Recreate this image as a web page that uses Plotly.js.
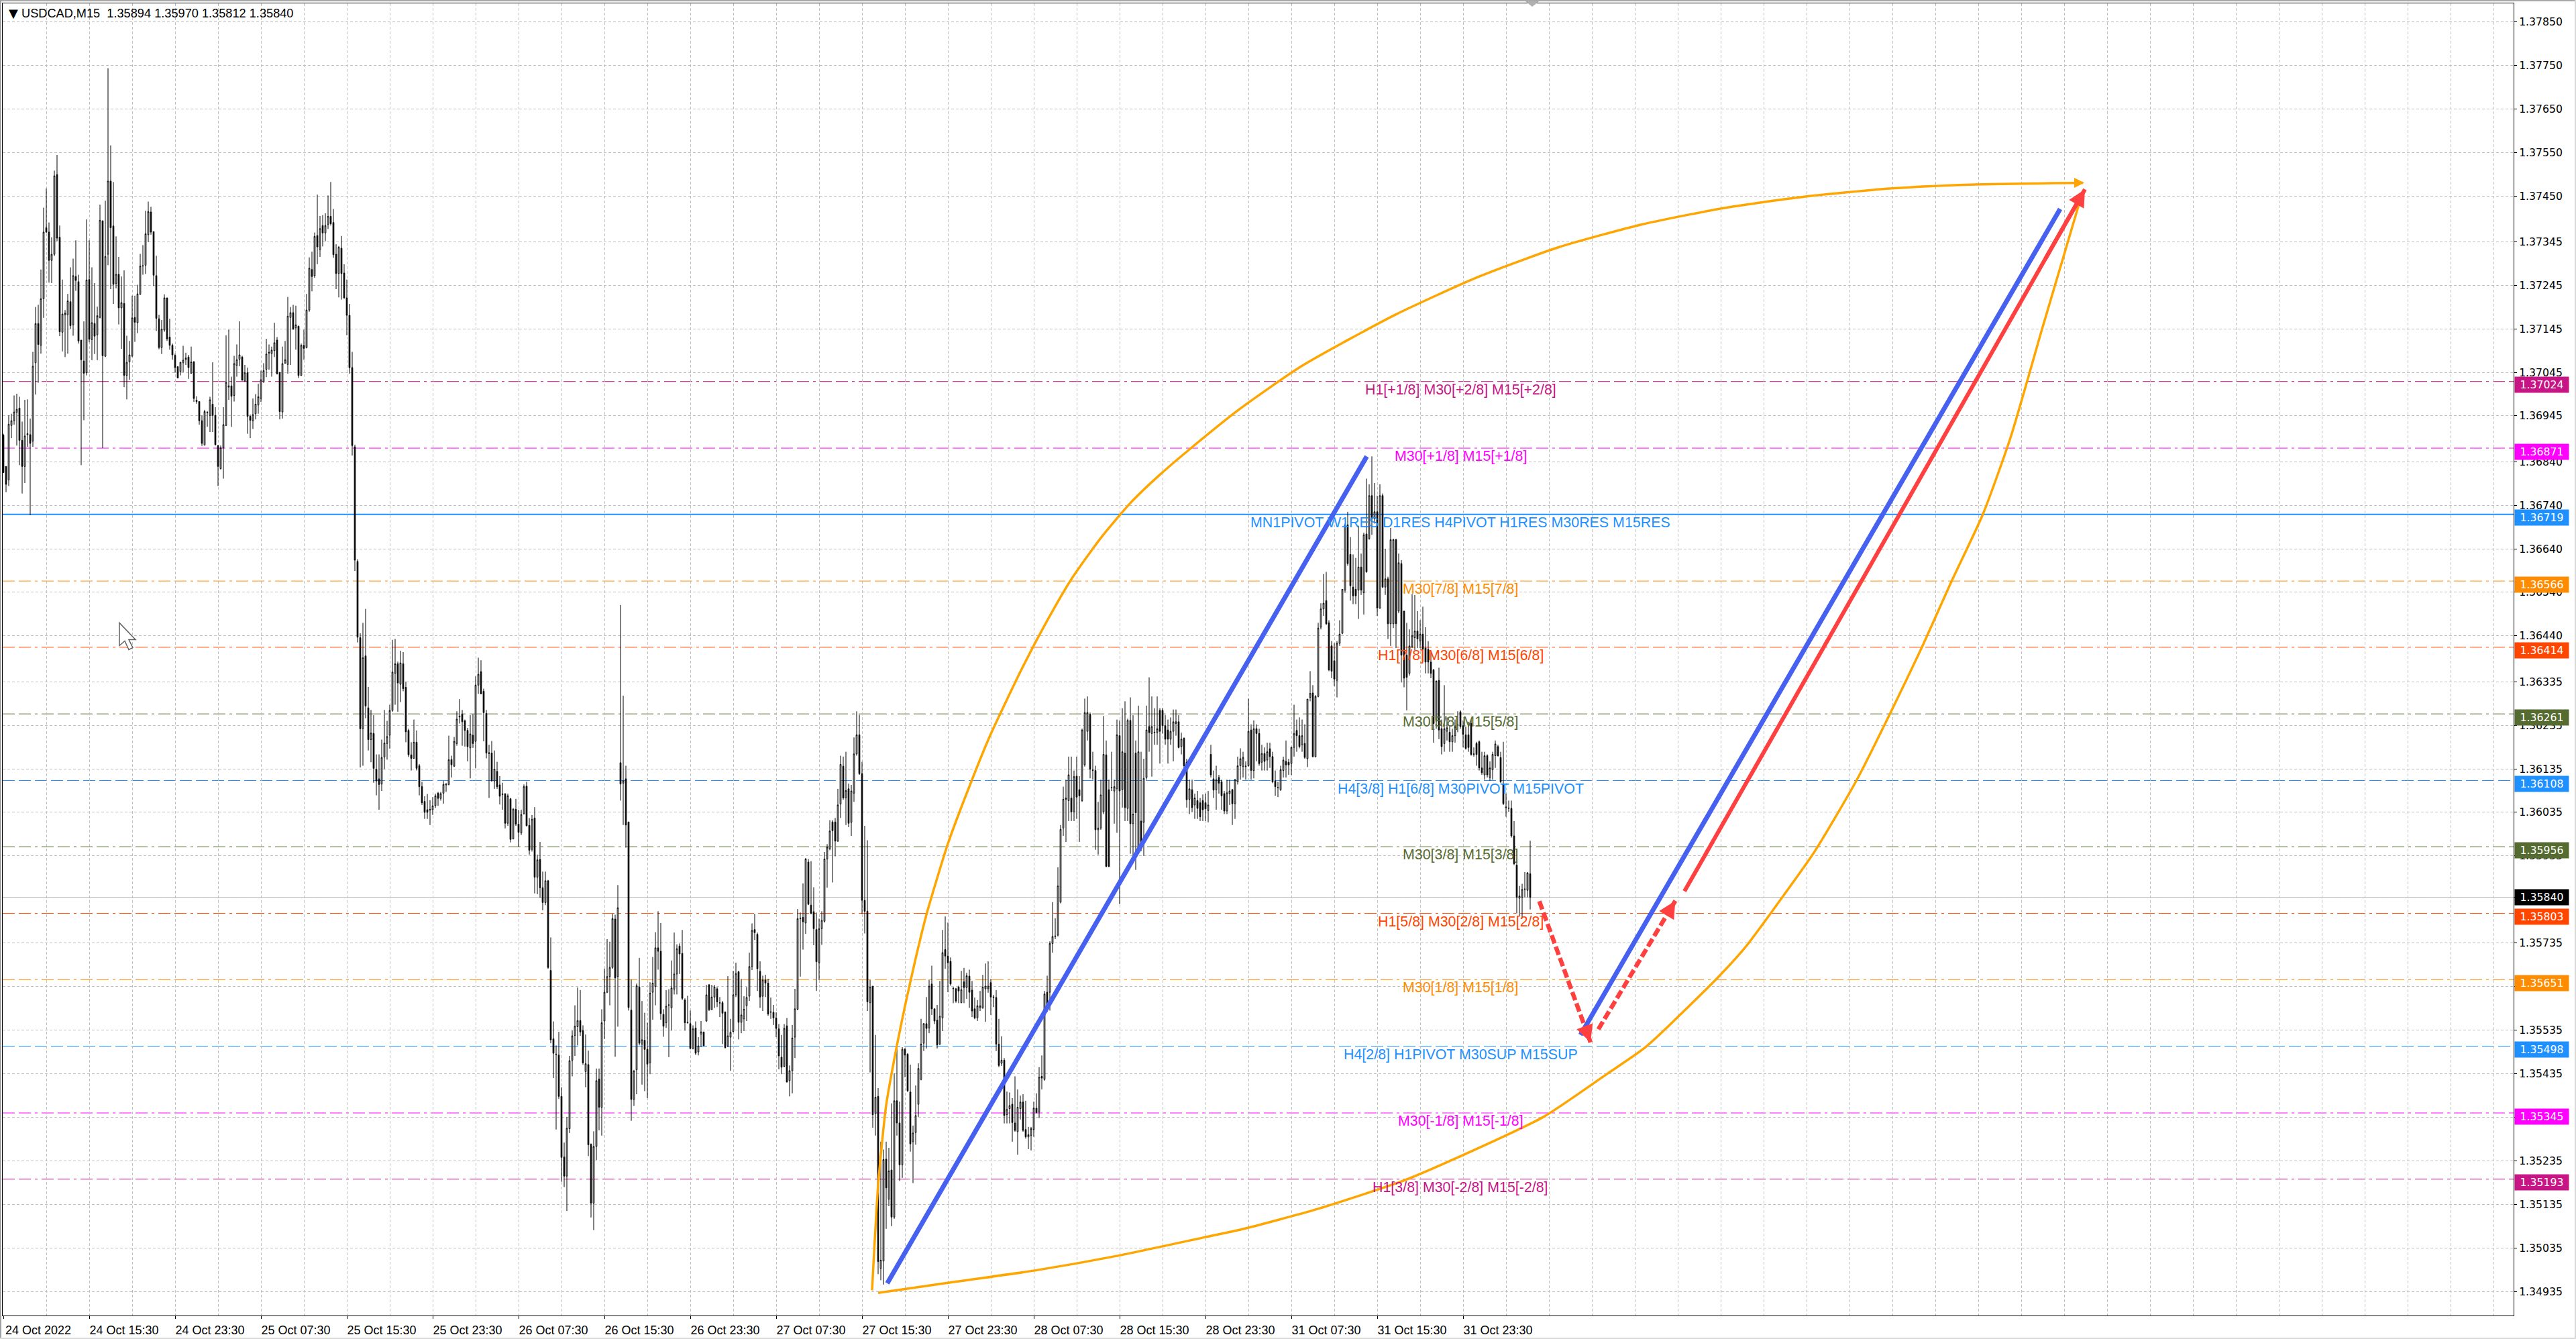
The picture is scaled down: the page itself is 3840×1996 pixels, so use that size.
<!DOCTYPE html>
<html><head><meta charset="utf-8">
<script src="https://cdn.plot.ly/plotly-3.0.1.min.js"></script>
<style>
html,body{margin:0;padding:0;background:#fff;overflow:hidden}
#chart{position:absolute;left:0;top:0;width:3840px;height:1996px}
.edge{position:absolute;z-index:5}
</style></head><body>
<div id="chart"></div>
<div class="edge" style="left:0;top:0;width:3840px;height:2px;background:#a8a8a8"></div>
<div class="edge" style="left:0;top:0;width:2px;height:1996px;background:#a0a0a0"></div>
<div class="edge" style="left:3838px;top:0;width:2px;height:1996px;background:#d8d8d8"></div>
<div class="edge" style="left:0;top:1994px;width:3840px;height:2px;background:#d8d8d8"></div>
<div class="edge" style="left:2274px;top:2px;width:0;height:0;border-left:10px solid transparent;border-right:10px solid transparent;border-top:8px solid #b0b0b0"></div>
<script>
// Candle values: 1e-5 price units above 1.3 (6871 = 1.36871)
const opens = [
6901,6829,6798,6923,6934,6953,6963,6889,6829,6902,6902,6887,7067,7157,7107,7214,7377,7367,7302,7316,
7499,7355,7137,7177,7177,7207,7154,7265,7253,7119,7071,7044,7258,7120,7157,7131,7171,7393,7082,7316,
7484,7381,7249,7270,7193,7203,7038,7069,7083,7171,7159,7224,7290,7291,7361,7413,7368,7267,7168,7102,
7142,7216,7126,7107,7084,7058,7047,7067,7074,7080,7043,7069,6981,6978,6934,6878,6952,6946,6972,6946,
6877,6824,6872,6923,7011,7014,6992,7061,7075,7080,7025,7044,6944,6934,6950,6970,6985,7023,7052,7089,
7088,7095,7119,7045,6954,7066,7063,7171,7182,7147,7151,7038,7107,7102,7188,7281,7267,7359,7327,7382,
7365,7384,7403,7389,7316,7272,7330,7273,7216,7176,7056,
6874,6611,6436,6227,6394,6275,6202,6216,6134,6112,6100,6162,6193,6212,6269,6354,6376,6329,6376,6322,
6223,6167,6159,6196,6142,6094,6060,6041,6040,6041,6050,6079,6067,6079,6098,6099,6156,6141,6193,6254,
6261,6245,6223,6183,6212,6198,6327,6358,6313,6262,6172,6171,6107,6129,6098,6076,6078,6010,6066,5974,
6042,6008,5988,6032,6095,6005,5950,6022,5886,5927,5862,5828,5878,5672,5515,5479,5478,5383,5244,5200,
5309,5466,5523,5543,5557,5534,5440,5456,5273,5138,5268,5423,5358,5556,5622,5658,5679,5790,5658,6149,
6102,6112,6013,5581,5376,5444,5634,5503,5512,5491,5460,5622,5635,5724,5716,5571,5552,5592,5586,5629,
5664,5728,5711,5604,5552,5550,5493,5540,
5485,5526,5531,5556,5639,5582,5611,5630,5597,5598,5577,5498,5519,5532,5616,5669,5553,5561,5591,5613,
5681,5766,5755,5670,5613,5650,5643,5576,5576,5563,5538,5473,5452,5545,5419,5442,5519,5583,5791,5794,
5781,5921,5822,5807,5766,5690,5768,5785,5928,5951,6013,6013,5969,6054,6141,6068,6089,6012,6079,6169,
6213,6124,5833,5808,5598,5636,5344,5383,4988,5005,5239,5147,5214,5106,5373,5322,5226,5491,5480,5393,
5279,5300,5365,5422,5505,5550,5540,5641,5584,5558,5503,5563,5720,5705,5693,5630,5630,5634,5598,5646,
5633,5659,5627,5584,5563,5586,5586,5630,5630,5644,5610,5610,5503,5459,5466,5341,5355,5365,5322,5302,
5355,5370,5307,5290,5293,5307,5356,5347,5429,5422,
5622,5622,5734,5750,5753,5829,5999,6065,6062,6068,6036,6118,6087,6062,6144,6221,6260,6131,6131,5995,
5999,6036,6167,6087,6091,6084,6089,6211,6087,6171,6044,6246,6009,6171,5946,6015,6012,6115,6232,6216,
6218,6218,6269,6269,6234,6224,6203,6221,6239,6243,6186,6205,6150,6065,6087,6052,6062,6057,6062,6057,
6039,6168,6112,6087,6115,6105,6078,6038,6078,6087,6055,6105,6142,6140,6140,6142,6224,6131,6227,6216,
6150,6170,6155,6181,6163,6107,6091,6087,6131,6152,6150,6147,6184,6223,6211,6190,6193,6158,6299,6309,
6163,6301,6460,6502,6521,6470,6417,6383,6338,6423,6446,6545,6695,6627,6552,6547,6545,6598,6539,6674,
6663,6762,6709,6725,6504,6762,6552,6571,6468,6468,6661,6497,6606,6497,6396,6354,6415,6436,6451,6428,
6444,6412,6409,6380,6362,6246,6338,6227,6193,6221,6219,6197,6211,6235,6266,6234,6213,6213,6239,6168,
6193,6197,6137,6121,6165,6115,6133,6165,6186,6161,6099,6046,6044,6044,5981,5914,5838,5840,5858,5856,
5894];
const highs = [
6904,6829,6946,6950,6992,6996,6989,6932,6982,6983,6939,7092,7195,7200,7281,7423,7467,7389,7355,7508,
7544,7382,7258,7188,7225,7286,7306,7348,7269,7119,7162,7396,7348,7286,7250,7196,7430,7393,7439,7743,
7566,7482,7357,7310,7265,7279,7129,7117,7221,7221,7246,7317,7337,7416,7437,7425,7368,7313,7177,7165,
7224,7216,7168,7111,7088,7058,7069,7106,7090,7085,7104,7071,6990,6978,6946,6959,6956,6989,7068,6965,
6878,6877,6965,7130,7143,7035,7083,7109,7162,7083,7062,7056,6948,6985,6995,7019,7049,7066,7122,7109,
7104,7159,7126,7045,7104,7117,7218,7195,7200,7198,7152,7111,7143,7225,7309,7322,7366,7453,7404,7406,
7410,7451,7482,7420,7339,7335,7358,7293,7258,7202,7092,
6879,6616,6446,6470,6502,6323,6270,6258,6168,6168,6202,6270,6245,6282,6431,6433,6381,6406,6403,6335,
6227,6196,6248,6223,6146,6105,6072,6077,6063,6070,6078,6082,6082,6107,6102,6211,6165,6208,6267,6295,
6270,6248,6229,6258,6260,6347,6390,6384,6319,6270,6190,6199,6177,6151,6118,6103,6078,6078,6068,6045,
6066,6041,6041,6099,6105,6022,6029,6047,5938,5967,5899,5899,5880,5748,5555,5500,5531,5404,5277,5336,
5476,5534,5592,5633,5627,5546,5525,5488,5275,5303,5447,5447,5583,5676,5744,5738,5802,5800,5868,6511,
6303,6142,6013,5651,5444,5642,5701,5602,5575,5552,5645,5703,5760,5808,5781,5583,5627,5629,5695,5759,
5732,5734,5765,5608,5614,5580,5546,5555,
5519,5556,5531,5639,5641,5639,5639,5634,5611,5602,5577,5659,5561,5671,5690,5671,5653,5613,5634,5713,
5780,5802,5759,5693,5660,5662,5653,5610,5593,5576,5549,5524,5549,5563,5454,5547,5630,5813,5805,5872,
5930,5928,5923,5863,5805,5791,5808,5944,5962,6017,6017,6022,6089,6165,6163,6174,6101,6098,6207,6267,
6259,6151,6004,5971,5650,5636,5524,5402,5279,5261,5279,5265,5367,5436,5496,5371,5496,5494,5482,5456,
5316,5408,5459,5561,5551,5611,5651,5683,5584,5593,5648,5765,5796,5782,5702,5634,5632,5637,5671,5678,
5667,5674,5648,5610,5604,5625,5662,5688,5693,5653,5616,5627,5561,5521,5471,5394,5392,5379,5429,5399,
5385,5388,5373,5313,5313,5371,5390,5450,5477,5625,
5660,5739,5829,5792,5909,6006,6094,6110,6163,6163,6131,6163,6118,6227,6296,6301,6264,6174,6142,6059,
6110,6256,6200,6110,6174,6110,6248,6246,6274,6290,6250,6299,6258,6200,6280,6174,6158,6280,6345,6301,
6274,6301,6274,6274,6258,6248,6253,6271,6271,6258,6218,6207,6158,6110,6110,6078,6084,6068,6076,6078,
6084,6190,6131,6142,6121,6110,6084,6110,6110,6089,6112,6163,6182,6174,6152,6296,6237,6246,6237,6227,
6190,6184,6195,6195,6174,6131,6105,6142,6163,6200,6158,6186,6282,6248,6253,6248,6237,6295,6359,6327,
6304,6470,6515,6582,6587,6476,6428,6423,6428,6476,6547,6698,6725,6667,6627,6619,6693,6629,6677,6801,
6788,6852,6791,6762,6788,6767,6640,6576,6688,6663,6663,6629,6614,6497,6470,6455,6536,6534,6497,6476,
6507,6460,6428,6402,6364,6338,6367,6248,6327,6253,6232,6227,6248,6267,6269,6246,6232,6243,6248,6184,
6197,6200,6174,6174,6168,6152,6174,6200,6190,6174,6197,6078,6062,6062,6015,5919,5866,5871,5898,5898,
5970];
const lows = [
6815,6770,6784,6894,6925,6877,6832,6767,6791,6874,6717,6874,6994,7021,7088,7170,7365,7251,7250,7312,
7346,7128,7093,7080,7088,7145,7129,7232,7111,6832,6935,7038,7114,7073,7087,7073,7169,6871,7080,7291,
7236,7202,7238,7155,7099,7011,6983,7028,7080,7115,7135,7223,7269,7271,7344,7361,7243,7140,7098,7087,
7138,7117,7097,7074,7044,7032,7038,7045,7062,7030,7042,6977,6973,6925,6876,6877,6920,6908,6908,6877,
6784,6822,6801,6922,6982,6920,6978,7035,7059,7026,7023,6904,6894,6915,6937,6950,6977,7021,7034,7051,
7035,7080,7040,6937,6939,7065,7042,7062,7143,7097,7032,7037,7074,7100,7184,7231,7262,7293,7310,7334,
7346,7374,7382,7308,7236,7217,7212,7214,7130,7042,6854,
6589,6425,6138,6142,6251,6177,6150,6103,6074,6041,6084,6134,6156,6181,6266,6282,6266,6288,6313,6196,
6162,6131,6159,6131,6074,6052,6020,6020,6006,6029,6045,6050,6062,6055,6082,6097,6115,6139,6188,6239,
6188,6186,6152,6113,6183,6136,6307,6307,6198,6159,6068,6107,6089,6089,6053,6041,5998,6004,5966,5973,
6004,5956,5983,6030,6003,5938,5945,5849,5847,5839,5810,5822,5676,5505,5425,5307,5377,5187,5175,5120,
5299,5429,5476,5500,5522,5456,5404,5246,5105,5076,5237,5305,5293,5515,5620,5592,5676,5474,5543,6062,
6006,5954,5580,5327,5361,5388,5500,5410,5395,5379,5434,5559,5592,5674,5559,5520,5540,5473,5534,5617,
5617,5664,5604,5534,5550,5491,5491,5478,
5477,5496,5499,5554,5579,5582,5586,5588,5565,5503,5493,5496,5442,5530,5611,5514,5528,5533,5556,5602,
5673,5742,5625,5586,5579,5611,5568,5561,5547,5519,5445,5434,5450,5415,5383,5390,5471,5581,5658,5720,
5756,5822,5801,5730,5625,5650,5731,5782,5862,5948,5874,5934,5967,6022,6064,6006,6001,5981,6059,6165,
6121,5802,5757,5579,5438,5311,5293,4975,4961,4951,5079,5131,5085,5102,5293,5189,5196,5427,5393,5256,
5184,5272,5336,5420,5487,5493,5528,5570,5549,5493,5501,5533,5676,5622,5637,5597,5598,5597,5597,5597,
5607,5586,5565,5560,5556,5579,5584,5554,5621,5570,5588,5487,5450,5453,5321,5321,5321,5279,5302,5249,
5330,5302,5286,5262,5259,5290,5344,5333,5399,5419,
5577,5580,5713,5744,5750,5826,5981,5967,6015,6015,6015,6020,5967,6059,6140,6200,6113,6110,5949,5938,
5995,6031,5909,5909,6084,6009,5988,5824,6046,6015,6015,5940,5925,5903,5940,5946,5935,6110,6174,6117,
6190,6190,6147,6216,6190,6147,6190,6152,6211,6182,6168,6131,6046,6031,6036,6020,6020,6015,6015,6015,
6012,6115,6068,6041,6078,6041,6031,6031,6052,6006,6020,6099,6110,6115,6110,6140,6110,6113,6152,6142,
6131,6131,6131,6137,6102,6073,6070,6084,6115,6115,6121,6121,6163,6174,6182,6174,6158,6139,6290,6161,
6161,6299,6455,6486,6465,6359,6343,6325,6299,6417,6444,6539,6601,6521,6513,6513,6479,6534,6489,6585,
6661,6672,6698,6486,6502,6550,6534,6433,6417,6458,6412,6492,6333,6322,6269,6349,6412,6407,6412,6412,
6380,6354,6354,6343,6195,6227,6203,6168,6174,6200,6174,6174,6195,6219,6227,6184,6179,6174,6165,6163,
6142,6131,6121,6110,6115,6108,6110,6137,6163,6102,6052,6025,6036,5977,5914,5803,5797,5792,5840,5840,
5812];
const closes = [
6815,6788,6926,6934,6954,6960,6889,6829,6899,6904,6882,7059,7157,7109,7214,7367,7367,7302,7316,7496,
7353,7138,7179,7181,7209,7152,7267,7256,7117,7074,7043,7257,7121,7159,7128,7175,7394,7083,7311,7484,
7377,7247,7270,7193,7205,7038,7068,7085,7170,7160,7225,7289,7289,7363,7414,7367,7268,7169,7102,7144,
7216,7122,7107,7085,7056,7032,7068,7073,7078,7056,7069,6985,6978,6934,6882,6955,6953,6982,6946,6879,
6829,6872,6925,7022,7014,6990,7065,7074,7085,7027,7044,6944,6935,6948,6972,6989,7028,7049,7087,7091,
7096,7113,7042,6955,7065,7074,7174,7182,7144,7154,7038,7107,7100,7188,7284,7265,7357,7333,7375,7365,
7382,7403,7386,7315,7272,7332,7272,7216,7176,7056,6877,
6614,6437,6227,6390,6279,6202,6217,6136,6107,6099,6161,6194,6209,6269,6357,6376,6332,6378,6319,6220,
6167,6159,6196,6136,6094,6057,6035,6035,6042,6050,6073,6067,6078,6099,6100,6156,6144,6198,6249,6256,
6243,6223,6186,6215,6193,6327,6352,6307,6264,6171,6170,6107,6134,6094,6072,6077,6010,6073,5973,6042,
6008,5989,6030,6094,6004,5948,6019,5886,5926,5862,5828,5878,5679,5513,5482,5480,5383,5243,5200,5310,
5465,5522,5544,5557,5531,5460,5458,5272,5138,5268,5419,5358,5552,5622,5658,5679,5791,5655,5816,6100,
6107,6006,5587,5376,5441,5637,5505,5513,5491,5457,5620,5643,5724,5716,5573,5544,5590,5593,5632,5664,
5722,5710,5608,5552,5553,5493,5538,5482,
5499,5531,5499,5616,5582,5611,5634,5600,5598,5574,5495,5522,5530,5616,5665,5553,5570,5583,5610,5681,
5764,5759,5676,5611,5650,5643,5572,5577,5563,5539,5476,5450,5539,5416,5442,5517,5584,5791,5792,5784,
5928,5824,5803,5768,5692,5768,5787,5928,5955,5992,5993,5969,6052,6145,6068,6085,6010,6084,6169,6213,
6124,5833,5808,5600,5634,5341,5381,5004,5007,5238,5173,5212,5106,5373,5322,5226,5491,5478,5396,5274,
5299,5339,5447,5503,5550,5539,5636,5584,5556,5501,5567,5713,5705,5690,5641,5631,5602,5625,5628,5633,
5660,5622,5579,5563,5591,5591,5634,5636,5636,5611,5611,5503,5454,5466,5339,5353,5362,5323,5305,5358,
5370,5305,5290,5295,5309,5356,5346,5427,5425,5618,
5593,5734,5750,5751,5866,5996,6065,6068,6121,6036,6117,6070,6073,6224,6264,6264,6134,6132,5995,5999,
6075,6168,5911,5911,6092,6094,6213,6084,6174,6046,6246,6009,6031,6034,6174,5951,6113,6224,6218,6232,
6219,6227,6221,6234,6203,6203,6221,6243,6243,6184,6203,6142,6064,6089,6046,6068,6044,6025,6041,6043,
6052,6121,6086,6110,6102,6073,6038,6080,6084,6055,6110,6142,6158,6161,6141,6221,6131,6227,6216,6147,
6170,6152,6174,6163,6105,6094,6092,6133,6155,6144,6144,6184,6216,6211,6186,6211,6161,6295,6308,6163,
6301,6458,6502,6515,6468,6362,6359,6341,6423,6444,6547,6695,6606,6555,6532,6532,6598,6545,6672,6587,
6762,6709,6725,6504,6762,6552,6571,6468,6661,6661,6468,6608,6396,6343,6345,6417,6441,6451,6433,6444,
6409,6380,6380,6354,6239,6336,6224,6186,6227,6229,6197,6211,6232,6236,6232,6214,6182,6184,6168,6169,
6168,6137,6126,6165,6121,6137,6168,6192,6165,6105,6055,6047,6045,5981,5917,5840,5843,5858,5859,5896,
5840];

const yTickVals = [1.3785,1.3775,1.3765,1.3755,1.3745,1.37345,1.37245,1.37145,1.37045,1.36945,1.3684,1.3674,1.3664,1.3654,1.3644,1.36335,1.36235,1.36135,1.36035,1.35935,1.3584,1.35735,1.35635,1.35535,1.35435,1.35335,1.35235,1.35135,1.35035,1.34935];
const yTickText = ['1.37850','1.37750','1.37650','1.37550','1.37450','1.37345','1.37245','1.37145','1.37045','1.36945','1.36840','1.36740','1.36640','1.36540','1.36440','1.36335','1.36235','1.36135','1.36035','1.35935','1.35840','1.35735','1.35635','1.35535','1.35435','1.35335','1.35235','1.35135','1.35035','1.34935'];
const xTickBars = [0,32,64,96,128,160,192,224,256,288,320,352,384,416,448,480,512,544];
const xTickText = ['24 Oct 2022','24 Oct 15:30','24 Oct 23:30','25 Oct 07:30','25 Oct 15:30','25 Oct 23:30','26 Oct 07:30','26 Oct 15:30','26 Oct 23:30','27 Oct 07:30','27 Oct 15:30','27 Oct 23:30','28 Oct 07:30','28 Oct 15:30','28 Oct 23:30','31 Oct 07:30','31 Oct 15:30','31 Oct 23:30'];
const minorGridBars = [16,48,80,112,144,176,208,240,272,304,336,368,400,432,464,496,528,560,576,592,608,624,640,656,672,688,704,720,736,752,768,784,800,816,832,848,864,880,896,912,928];

const levelPrices = [1.37024,1.36871,1.36719,1.36566,1.36414,1.36261,1.36108,1.35956,1.35803,1.35651,1.35498,1.35345,1.35193];
const levelText = ['1.37024','1.36871','1.36719','1.36566','1.36414','1.36261','1.36108','1.35956','1.35803','1.35651','1.35498','1.35345','1.35193'];
const levelColors = ['#C71585','#FF00FF','#1E90FF','#FF8C00','#FF4500','#556B2F','#1E90FF','#556B2F','#FF4500','#FF8C00','#1E90FF','#FF00FF','#C71585'];
const levelStyle = ['m','m','s','m','m','m','b','m','m','m','b','m','m'];
const levelLabels = ['H1[+1/8] M30[+2/8] M15[+2/8]','M30[+1/8] M15[+1/8]','MN1PIVOT W1RES D1RES H4PIVOT H1RES M30RES M15RES','M30[7/8] M15[7/8]','H1[7/8] M30[6/8] M15[6/8]','M30[5/8] M15[5/8]','H4[3/8] H1[6/8] M30PIVOT M15PIVOT','M30[3/8] M15[3/8]','H1[5/8] M30[2/8] M15[2/8]','M30[1/8] M15[1/8]','H4[2/8] H1PIVOT M30SUP M15SUP','M30[-1/8] M15[-1/8]','H1[3/8] M30[-2/8] M15[-2/8]'];
const labelBar = 543;
const bidPrice = 1.3584;

// Hand-drawn objects: bar position and price (1e-5 above 1.3)
const arcUpBars = [323.75,326,329,333,336,340,344,352,361,368,380,389,398,409,420,431,442,461,484,519,550,580,611,641,672,703,733,775];
const arcUpPts  = [4938,5179,5363,5500,5590,5700,5800,5963,6110,6215,6370,6475,6570,6665,6745,6810,6868,6962,7060,7178,7265,7333,7385,7422,7449,7467,7476,7480];
const arcLowBars = [326,352,384,416,448,461,490,522,541,574,598,612,638,649,660,675,690.6,703,715,726,737.7,748,759.8,767,775];
const arcLowPts  = [4932,4955,4983,5018,5060,5077,5125,5190,5240,5336,5436,5496,5650,5724,5815,5945,6108,6260,6414,6565,6719,6895,7145,7295,7462];
const blue1Bars = [329.4,508.1]; const blue1Pts = [4954,6852];
const blue2Bars = [587.75,766.5]; const blue2Pts = [5524,7420];
const redBars = [626.5,775.75]; const redPts = [5854,7465];
const redDash1Bars = [572.4,591.5]; const redDash1Pts = [5831,5507];
const redDash2Bars = [594.4,623.1]; const redDash2Pts = [5537,5832];

const toPrice = v => 1.3 + v/1e5;
const barIdx = opens.map((_,i)=>i);
const GRID='#c0c0c0', GD='4px,3px';
const FONT_AX='"DejaVu Sans", sans-serif', FONT_TXT='"Liberation Sans", Arial, sans-serif';

const line=(bars,pts,color,width,dash)=>({type:'scatter',mode:'lines',x:bars,y:pts.map(toPrice),hoverinfo:'skip',showlegend:false,
  line:{color:color,width:width,dash:dash||'solid'}});
const curve=(bars,pts)=>({type:'scatter',mode:'lines',x:bars,y:pts.map(toPrice),hoverinfo:'skip',showlegend:false,
  line:{color:'#FFA500',width:3.5,shape:'spline',smoothing:0.6}});

const traces=[
 {type:'candlestick',x:barIdx,open:opens.map(toPrice),high:highs.map(toPrice),low:lows.map(toPrice),close:closes.map(toPrice),
  whiskerwidth:0,hoverinfo:'skip',showlegend:false,
  increasing:{line:{color:'#000',width:1},fillcolor:'#fff'},
  decreasing:{line:{color:'#000',width:1},fillcolor:'#000'}},
 curve(arcUpBars,arcUpPts),
 curve(arcLowBars,arcLowPts),
 line(blue1Bars,blue1Pts,'#4660F0',7),
 line(blue2Bars,blue2Pts,'#4660F0',7),
 line(redBars,redPts,'#FF4040',6),
 line(redDash1Bars,redDash1Pts,'#FF4040',6.5,'13px,5px'),
 line(redDash2Bars,redDash2Pts,'#FF4040',6.5,'13px,5px'),
];

const dashFor={m:'18px,6px,18px,6px,4px,6px',b:'18px,6px',s:'solid'};
const shapes=levelPrices.map((p,i)=>({type:'line',xref:'paper',x0:0,x1:1,yref:'y',y0:p,y1:p,layer:'below',
  line:{color:levelColors[i],width:levelStyle[i]==='s'?2:1,dash:dashFor[levelStyle[i]]}}));
shapes.push({type:'line',xref:'paper',x0:0,x1:1,yref:'y',y0:bidPrice,y1:bidPrice,layer:'below',line:{color:'#b8b8b8',width:1}});
// mouse pointer left on the screenshot
shapes.push({type:'path',xref:'x',yref:'y',xsizemode:'pixel',ysizemode:'pixel',xanchor:43.25,yanchor:1.3647,
  path:'M0,0 L0,-34 L8,-27 L14,-40 L20,-37 L14,-25 L24,-25 Z',line:{color:'#606060',width:1.5},fillcolor:'#ffffff'});

const ann=[];
ann.push({xref:'paper',yref:'paper',x:0.0018,y:0.9925,xanchor:'left',yanchor:'middle',showarrow:false,text:'▼',font:{family:FONT_AX,size:18,color:'#000'}});
ann.push({xref:'paper',yref:'paper',x:0.007,y:0.9925,xanchor:'left',yanchor:'middle',showarrow:false,
  text:'USDCAD,M15\u00a0\u00a01.35894 1.35970 1.35812 1.35840',font:{family:FONT_TXT,size:18.2,color:'#000'}});
levelLabels.forEach((t,i)=>ann.push({xref:'x',yref:'y',x:labelBar,y:levelPrices[i],yshift:-12,xanchor:'center',yanchor:'middle',showarrow:false,text:t,
  font:{family:FONT_TXT,size:21.4,color:levelColors[i]}}));
const tagX=1.0003;
levelText.forEach((t,i)=>ann.push({xref:'paper',yref:'y',x:tagX,y:levelPrices[i],yshift:-5,xanchor:'left',yanchor:'middle',showarrow:false,
  text:t,width:80,height:23,align:'center',bgcolor:levelColors[i],borderpad:0,font:{family:FONT_AX,size:15.7,color:'#fff'}}));
ann.push({xref:'paper',yref:'y',x:tagX,y:bidPrice,xanchor:'left',yanchor:'middle',showarrow:false,text:'1.35840',width:80,height:23,align:'center',bgcolor:'#000',borderpad:0,font:{family:FONT_AX,size:15.7,color:'#fff'}});
const head=(bars,pts)=>{const f=0.9;const ax=bars[0]+(bars[1]-bars[0])*f,ay=toPrice(pts[0]+(pts[1]-pts[0])*f);
  return {xref:'x',yref:'y',axref:'x',ayref:'y',x:bars[1],y:toPrice(pts[1]),ax:ax,ay:ay,showarrow:true,arrowhead:2,arrowsize:0.85,arrowwidth:6,arrowcolor:'#FF4040',text:''};};
ann.push(head(redBars,redPts),head(redDash1Bars,redDash1Pts),head(redDash2Bars,redDash2Pts));
ann.push({xref:'x',yref:'y',axref:'pixel',ayref:'pixel',x:775.5,y:toPrice(7480),ax:-12,ay:0,showarrow:true,arrowhead:2,arrowsize:1,arrowwidth:3,arrowcolor:'#FFA500',text:''});

const layout={
 width:3840,height:1996,autosize:false,
 margin:{l:4,r:93,t:4.5,b:35,pad:0},
 paper_bgcolor:'#fff',plot_bgcolor:'#fff',showlegend:false,hovermode:false,dragmode:false,
 boxgap:0.4,
 xaxis:{type:'linear',range:[-0.25,935.5],rangeslider:{visible:false},fixedrange:true,
  tickmode:'array',tickvals:xTickBars,ticktext:xTickText,ticks:'outside',ticklen:4,tickcolor:'#000',tickwidth:1,
  tickfont:{family:FONT_TXT,size:18,color:'#000'},ticklabelshift:52,ticklabeloverflow:'allow',ticklabelstandoff:1,tickangle:0,
  showgrid:true,gridcolor:GRID,griddash:GD,gridwidth:1,zeroline:false,
  minor:{tickmode:'array',tickvals:minorGridBars,showgrid:true,gridcolor:GRID,griddash:GD,gridwidth:1,ticks:''},
  showline:true,linecolor:'#000',linewidth:1,mirror:true},
 yaxis:{type:'linear',side:'right',range:[1.3488,1.37892],fixedrange:true,
  tickmode:'array',tickvals:yTickVals,ticktext:yTickText,ticks:'outside',ticklen:4,tickcolor:'#000',tickwidth:1,
  tickfont:{family:FONT_AX,size:15.7,color:'#000'},
  showgrid:true,gridcolor:GRID,griddash:GD,gridwidth:1,zeroline:false,
  showline:true,linecolor:'#000',linewidth:1,mirror:true},
 shapes:shapes,annotations:ann
};
Plotly.newPlot('chart',traces,layout,{staticPlot:true,displayModeBar:false});
</script></body></html>
